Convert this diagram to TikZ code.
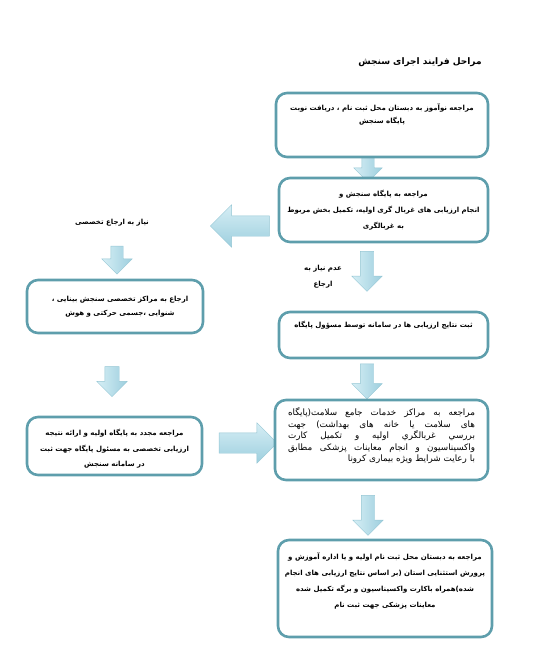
\documentclass[tikz,border=0pt]{standalone}
\usepackage{fontspec}
\usetikzlibrary{positioning, shapes.arrows, backgrounds}
\TeXXeTstate=1
\newfontfamily\arabicfont[Script=Arabic]{DejaVu Sans}
\definecolor{boxline}{HTML}{5E9EAC}
\definecolor{arrowlight}{HTML}{D6EEF5}
\definecolor{arrowdark}{HTML}{9DCFDE}
\definecolor{arrowedge}{HTML}{94C6D4}
\tikzset{x=1pt, y=-1pt,
box/.style={draw=boxline, line width=2.6pt, rounded corners=11pt, fill=white},
txt/.style={font=\arabicfont\bfseries\fontsize{7}{14}\selectfont, align=center, inner sep=0pt},
title/.style={font=\arabicfont\bfseries\fontsize{9}{11}\selectfont, inner sep=0pt},
blockarrow/.style={single arrow, draw=arrowedge, line width=0.4pt, single arrow head indent=0pt},
downarrow/.style={blockarrow, shape border rotate=270, left color=arrowlight, right color=arrowdark},
sidearrow/.style={blockarrow, top color=arrowlight, bottom color=arrowdark},
}
\newcommand{\rl}[1]{\beginR #1\endR}
\newcommand{\jl}[1]{\leavevmode\hbox to \hsize{\spaceskip=0.3em plus 1fil\relax\beginR #1\endR}}

\begin{document}
\begin{tikzpicture}
\useasboundingbox (0,0) rectangle (540,662);
\node[title] (title) at (420,62) {\rl{مراحل فرایند اجرای سنجش}};

% right column
\node[box, minimum width=212pt, minimum height=64pt] (b1) at (382,125) {};
\node[box, minimum width=209pt, minimum height=64pt] (b2) at (383.5,210) {};
\node[box, minimum width=209pt, minimum height=46pt] (b3) at (383.5,335) {};
\node[box, minimum width=213pt, minimum height=80pt] (b4) at (381.5,440) {};
\node[box, minimum width=214pt, minimum height=97pt] (b5) at (385,588.5) {};
% left column
\node[box, minimum width=176pt, minimum height=53pt] (l1) at (115,306.5) {};
\node[box, minimum width=175pt, minimum height=58pt] (l2) at (114.5,446) {};

\node[txt, font=\arabicfont\bfseries\fontsize{7}{12.5}\selectfont, below=12pt of b1.north] (t1)
  {\rl{مراجعه نوآموز به  دبستان محل ثبت نام ،  دریافت نوبت}\\\rl{پایگاه سنجش}};
\node[txt, font=\arabicfont\bfseries\fontsize{7}{16}\selectfont] (t2) at (b2)
  {\rl{مراجعه به  پایگاه سنجش و}\\\rl{انجام ارزیابی های غربال گری اولیه، تکمیل بخش مربوط}\\\rl{به غربالگری}};
\node[txt, below=10pt of b3.north] (t3)
  {\rl{ثبت نتایج ارزیابی ها در سامانه توسط مسؤول پایگاه}};
\node[txt, font=\arabicfont\fontsize{8.8}{11.5}\selectfont, text width=187pt, align=right] (t4) at ([yshift=4pt]b4.center)
  {\jl{مراجعه به مراکز خدمات جامع سلامت(پایگاه}\\\jl{های سلامت یا خانه های بهداشت) جهت}\\\jl{بررسي غربالگري اوليه و تكميل كارت}\\\jl{واکسیناسیون و انجام معاینات پزشکی مطابق}\\\rl{با رعایت شرایط ویژه بیماری کرونا}};
\node[txt, font=\arabicfont\bfseries\fontsize{7}{16}\selectfont, below=14pt of b5.north] (t5)
  {\rl{مراجعه به دبستان محل ثبت نام اولیه و یا اداره آموزش و}\\\rl{پرورش استثنایی استان (بر اساس نتایج ارزیابی های انجام}\\\rl{شده)همراه  باکارت واکسیناسیون و برگه تکمیل شده}\\\rl{معاینات پزشکی جهت ثبت نام}};
\node[txt, xshift=5pt] (tl1) at (l1)
  {\rl{ارجاع به مراکز تخصصی سنجش بینایی ،}\\\rl{شنوایی ،جسمی حرکتی و هوش}};
\node[txt, font=\arabicfont\bfseries\fontsize{7}{15.5}\selectfont, yshift=-3pt] (tl2) at (l2)
  {\rl{مراجعه مجدد به پایگاه اولیه و ارائه نتیجه}\\\rl{ارزیابی تخصصی به  مسئول پایگاه جهت ثبت}\\\rl{در سامانه سنجش}};

% labels
\node[txt] (need) at (112,223) {\rl{نیاز به ارجاع تخصصی}};
\node[txt, font=\arabicfont\bfseries\fontsize{7}{16}\selectfont] (noneed) at (323,277) {\rl{عدم نیاز به}\\\rl{ارجاع}};

% block arrows
\begin{scope}[on background layer]
\node[downarrow, inner sep=6pt, minimum height=26pt, minimum width=28pt, single arrow head extend=8pt] (a1) at (368,166) {};
\node[downarrow, inner sep=6.5pt, minimum height=40pt, minimum width=30pt, single arrow head extend=8.5pt] (a2) at (367,268) {};
\node[downarrow, inner sep=6.5pt, minimum height=35pt, minimum width=30pt, single arrow head extend=8.5pt] (a3) at (367,378) {};
\node[downarrow, inner sep=6.5pt, minimum height=40pt, minimum width=30pt, single arrow head extend=8.5pt] (a4) at (368,512) {};
\node[sidearrow, inner sep=10pt, shape border rotate=180, minimum height=59pt, minimum width=42pt, single arrow head extend=11pt] (aL) at (245,226) {};
\node[downarrow, inner sep=6pt, minimum height=28pt, minimum width=30pt, single arrow head extend=9pt] (aL1) at (117,257) {};
\node[downarrow, inner sep=7pt, minimum height=30pt, minimum width=30pt, single arrow head extend=8pt] (aL2) at (112,378) {};
\node[sidearrow, inner sep=10pt, minimum height=58pt, minimum width=40pt, single arrow head extend=10pt] (aR) at (243,443) {};
\end{scope}
\end{tikzpicture}
\end{document}
